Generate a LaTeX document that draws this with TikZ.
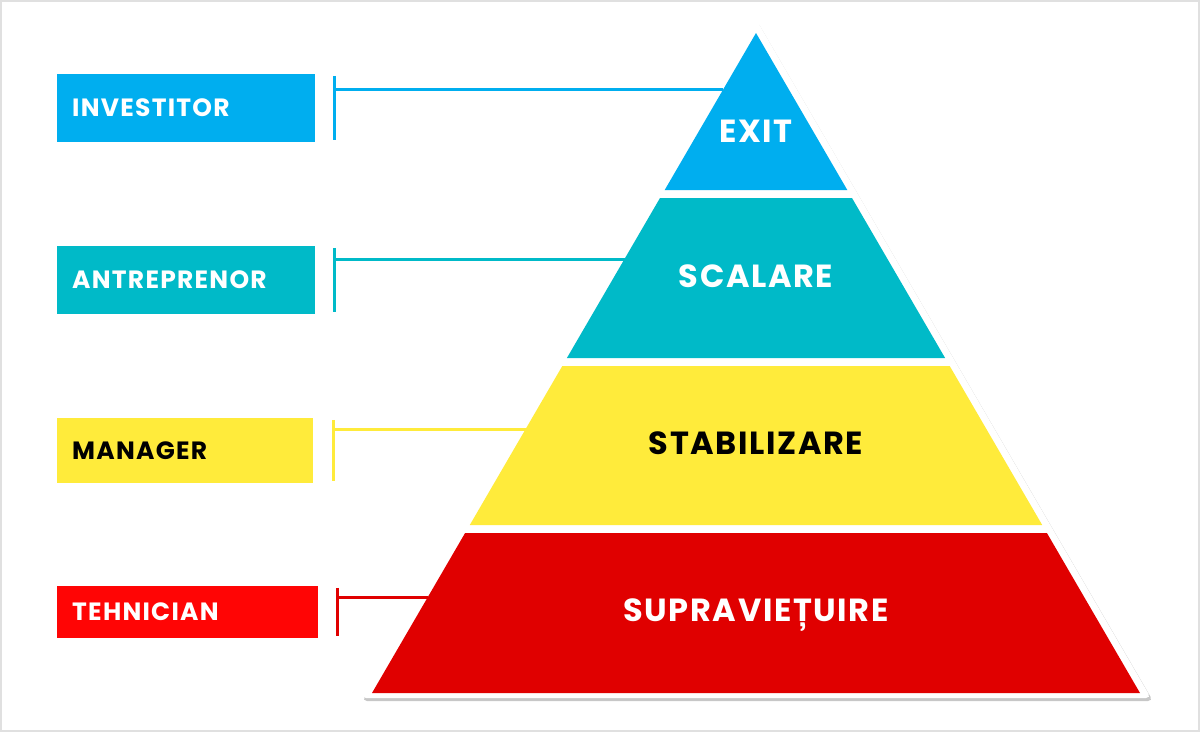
\documentclass[tikz,border=0pt]{standalone}
\usepackage{fontspec}
\newfontfamily\popfont{Poppins}[LetterSpace=5]
\definecolor{cblue}{HTML}{00AEEF}
\definecolor{cteal}{HTML}{00BAC8}
\definecolor{cyel}{HTML}{FFEB3B}
\definecolor{cred}{HTML}{E00000}
\definecolor{cbox}{HTML}{FF0505}
\tikzset{
  role/.style={fill=#1, anchor=west, text=white, align=left, inner xsep=15pt,
    font=\popfont\bfseries\fontsize{25}{25}\selectfont},
  level/.style={text=white, anchor=base, font=\popfont\bfseries\fontsize{32}{32}\selectfont},
  link/.style={draw=#1, line width=3pt},
}
\begin{document}
\begin{tikzpicture}[x=1pt, y=1pt]
  \useasboundingbox (0,0) rectangle (1200,-732);
  \draw[black!12, line width=2pt] (1,-1) rectangle (1199,-731);
  % pyramid frame with shadow
  \fill[black!22, rounded corners=5pt] (757,-21) -- (1153,-701) -- (362,-701) -- cycle;
  \fill[white, rounded corners=5pt] (756,-19) -- (1151,-698) -- (361,-698) -- cycle;
  % levels
  \fill[cblue] (756,-33) -- (847.3,-190) -- (664.7,-190) -- cycle;
  \fill[cteal] (660,-198) -- (852,-198) -- (945.1,-358) -- (566.9,-358) -- cycle;
  \fill[cyel] (562.3,-366) -- (949.7,-366) -- (1042.2,-525) -- (469.8,-525) -- cycle;
  \fill[cred] (465.1,-533) -- (1046.9,-533) -- (1140,-693) -- (372,-693) -- cycle;
  \node[level] (exit) at (756,-142) {EXIT};
  \node[level] (scal) at (756,-287) {SCALARE};
  \node[level, text=black] (stab) at (756,-454) {STABILIZARE};
  \node[level] (supr) at (756,-621) {SUPRAVIEȚUIRE};
  % roles
  \node[role=cblue, minimum width=258pt, minimum height=68pt, text width=228pt] (inv) at (57,-108) {INVESTITOR};
  \node[role=cteal, minimum width=258pt, minimum height=68pt, text width=228pt] (ant) at (57,-280) {ANTREPRENOR};
  \node[role=cyel, text=black, minimum width=256pt, minimum height=65pt, text width=226pt] (man) at (57,-450.5) {MANAGER};
  \node[role=cbox, minimum width=261pt, minimum height=52pt, text width=231pt] (teh) at (57,-612) {TEHNICIAN};
  % edge points
  \coordinate (e-exit) at (723.4,-89);
  \coordinate (e-scal) at (624.5,-259);
  \coordinate (e-stab) at (525.6,-429);
  \coordinate (e-supr) at (427.9,-597);
  % links
  \draw[link=cblue] ([xshift=19.5pt,yshift=-2pt]inv.north east) coordinate (inv-b) -- ([xshift=19.5pt,yshift=2pt]inv.south east);
  \draw[link=cblue] (e-exit) -- (e-exit -| inv-b);
  \draw[link=cteal] ([xshift=19.5pt,yshift=-2pt]ant.north east) coordinate (ant-b) -- ([xshift=19.5pt,yshift=2pt]ant.south east);
  \draw[link=cteal] (e-scal) -- (e-scal -| ant-b);
  \draw[link=cyel] ([xshift=20pt,yshift=-2pt]man.north east) coordinate (man-b) -- ([xshift=20pt,yshift=2pt]man.south east);
  \draw[link=cyel] (e-stab) -- (e-stab -| man-b);
  \draw[link=cred] ([xshift=19.5pt,yshift=-2pt]teh.north east) coordinate (teh-b) -- ([xshift=19.5pt,yshift=2pt]teh.south east);
  \draw[link=cred] (e-supr) -- (e-supr -| teh-b);
\end{tikzpicture}
\end{document}
